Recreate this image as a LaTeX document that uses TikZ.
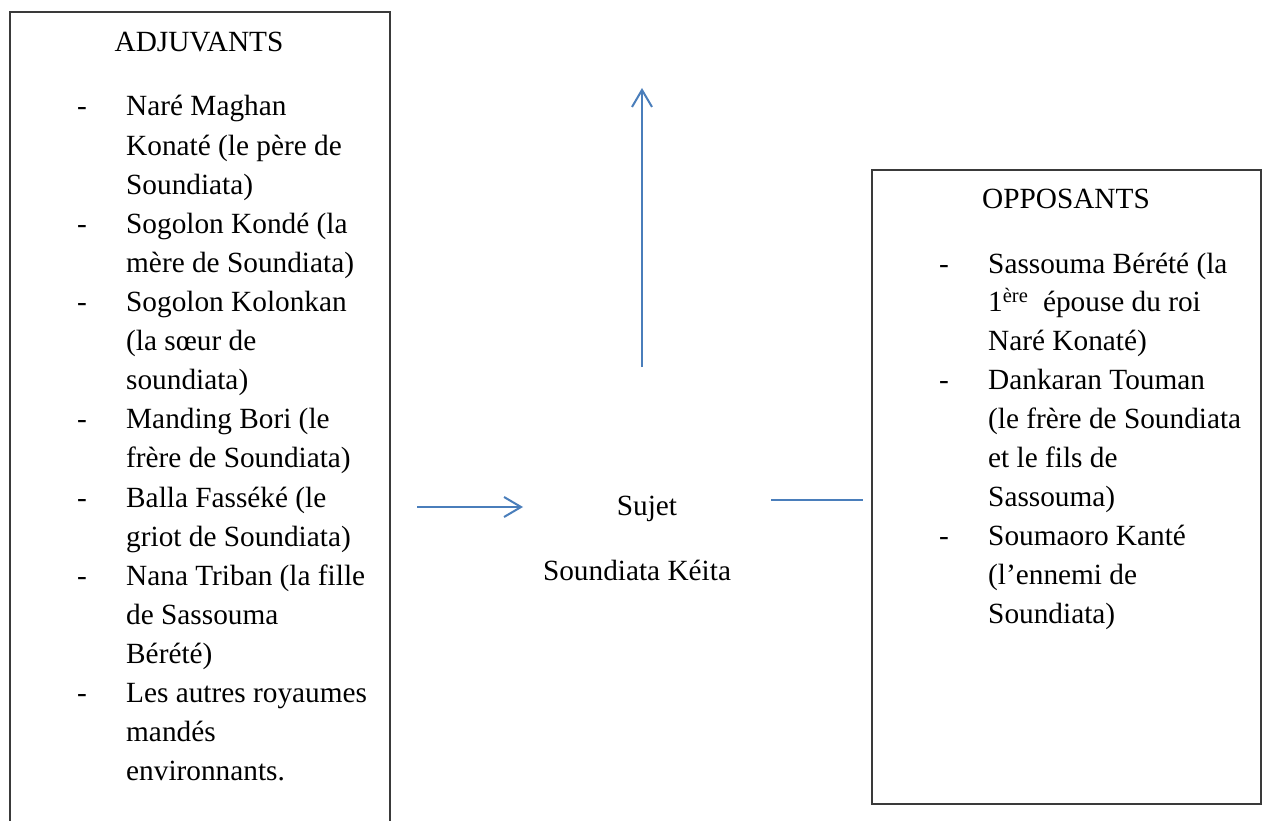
\documentclass[tikz,border=0pt]{standalone}
\usepackage{fontspec}
\setmainfont{Liberation Serif}
\usetikzlibrary{arrows.meta}
\definecolor{arrowblue}{HTML}{4A7EBB}
\definecolor{boxgray}{HTML}{3A3A3A}
\begin{document}
\begin{tikzpicture}[x=1pt,y=-1pt,
  txt/.style={inner sep=0pt, anchor=base west, font=\fontsize{29.3}{35}\selectfont},
  ctxt/.style={inner sep=0pt, anchor=base, font=\fontsize{29.3}{35}\selectfont},
  frame/.style={draw=boxgray, line width=1.5pt},
  conn/.style={draw=arrowblue, line width=2pt},
  tip/.style={-{Straight Barb[length=17pt,width=20pt]}}]
\useasboundingbox (0,0) rectangle (1263,821);
\fill[white] (0,0) rectangle (1263,821);

% frames
\draw[frame] (10,822) -- (10,12) -- (390,12) -- (390,822);
\draw[frame] (872,170) rectangle (1261,804);

% left box
\node[ctxt] (adj) at (199,52) {ADJUVANTS};
\node[txt] (d1) at (77,116) {-};
\node[txt] (l0) at (126,116) {Naré Maghan};
\node[txt] (l1) at (126,155.1) {Konaté (le père de};
\node[txt] (l2) at (126,194.2) {Soundiata)};
\node[txt] (d2) at (77,233.3) {-};
\node[txt] (l3) at (126,233.3) {Sogolon Kondé (la};
\node[txt] (l4) at (126,272.4) {mère de Soundiata)};
\node[txt] (d3) at (77,311.5) {-};
\node[txt] (l5) at (126,311.5) {Sogolon Kolonkan};
\node[txt] (l6) at (126,350.6) {(la sœur de};
\node[txt] (l7) at (126,389.7) {soundiata)};
\node[txt] (d4) at (77,428.8) {-};
\node[txt] (l8) at (126,428.8) {Manding Bori (le};
\node[txt] (l9) at (126,467.9) {frère de Soundiata)};
\node[txt] (d5) at (77,507) {-};
\node[txt] (l10) at (126,507) {Balla Fasséké (le};
\node[txt] (l11) at (126,546.1) {griot de Soundiata)};
\node[txt] (d6) at (77,585.2) {-};
\node[txt] (l12) at (126,585.2) {Nana Triban (la fille};
\node[txt] (l13) at (126,624.3) {de Sassouma};
\node[txt] (l14) at (126,663.4) {Bérété)};
\node[txt] (d7) at (77,702.5) {-};
\node[txt] (l15) at (126,702.5) {Les autres royaumes};
\node[txt] (l16) at (126,741.6) {mandés};
\node[txt] (l17) at (126,780.7) {environnants.};

% right box
\node[ctxt] (opp) at (1066,208) {OPPOSANTS};
\node[txt] (e1) at (939,273) {-};
\node[txt] (r0) at (988,273) {Sassouma Bérété (la};
\node[txt] (r1) at (988,311.9) {1\textsuperscript{ère}~ épouse du roi};
\node[txt] (r2) at (988,350.8) {Naré Konaté)};
\node[txt] (e2) at (939,389.7) {-};
\node[txt] (r3) at (988,389.7) {Dankaran Touman};
\node[txt] (r4) at (988,428.6) {(le frère de Soundiata};
\node[txt] (r5) at (988,467.5) {et le fils de};
\node[txt] (r6) at (988,506.4) {Sassouma)};
\node[txt] (e3) at (939,545.3) {-};
\node[txt] (r7) at (988,545.3) {Soumaoro Kanté};
\node[txt] (r8) at (988,584.2) {(l’ennemi de};
\node[txt] (r9) at (988,623.1) {Soundiata)};

% subject
\node[ctxt] (sujet) at (647,515) {Sujet};
\node[ctxt] (nom) at (637,580) {Soundiata Kéita};

% connectors
\coordinate (a1) at (417,507);
\coordinate (a2) at (523,507);
\coordinate (u1) at (642,367);
\coordinate (u2) at (642,88);
\coordinate (b1) at (771,500);
\coordinate (b2) at (863,500);
\draw[conn,tip] (a1) -- (a2);
\draw[conn,tip] (u1) -- (u2);
\draw[conn] (b1) -- (b2);
\end{tikzpicture}
\end{document}
